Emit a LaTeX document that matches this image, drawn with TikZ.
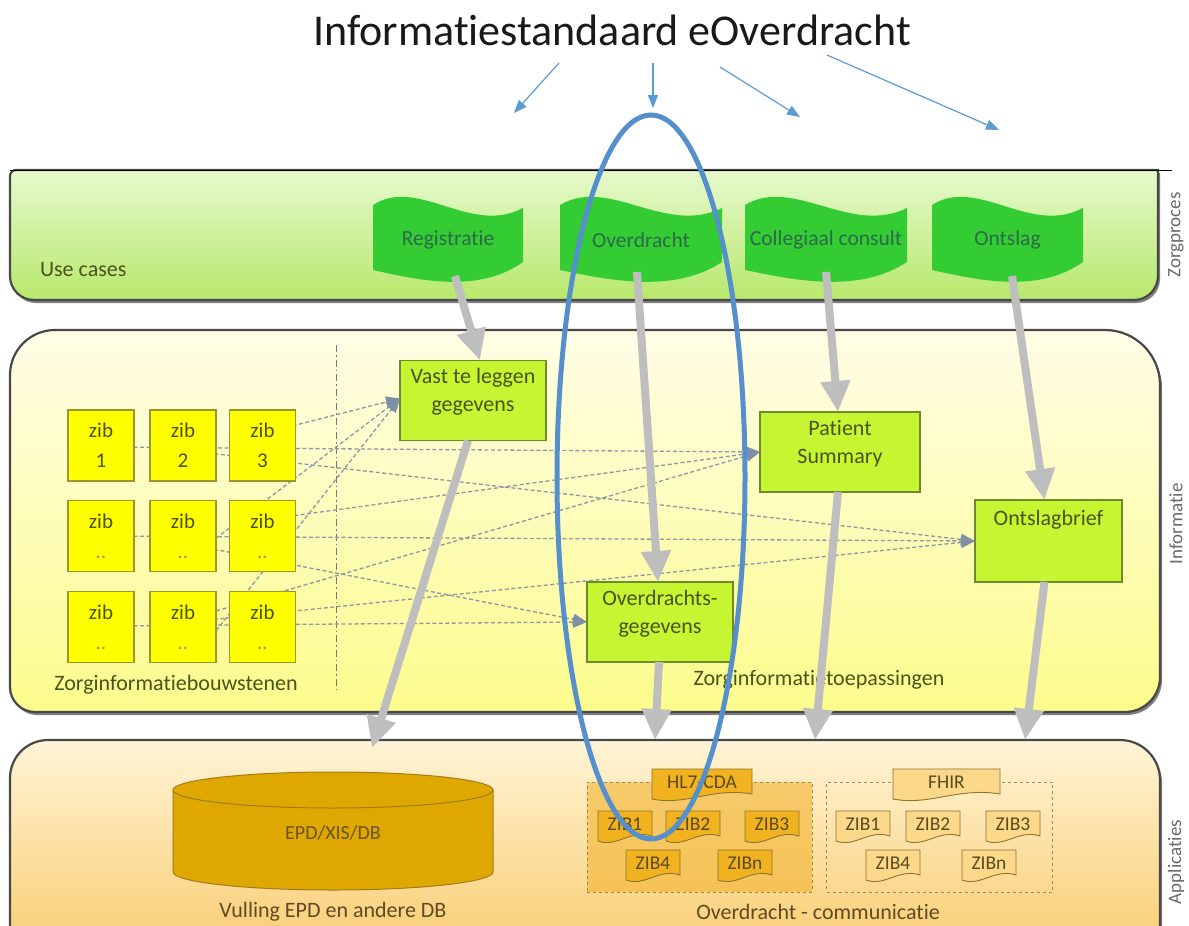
\documentclass[tikz,border=0pt]{standalone}
\usepackage{fontspec}
\setmainfont{Carlito}[Ligatures={NoCommon}]
\usetikzlibrary{arrows.meta,shapes.geometric,shadows}
\definecolor{flagfill}{HTML}{33CC33}
\definecolor{flagtxt}{HTML}{2D6A4A}
\definecolor{gboxfill}{HTML}{C6F531}
\definecolor{gboxdraw}{HTML}{6F8A2E}
\definecolor{zibfill}{HTML}{FFFF00}
\definecolor{zibdraw}{HTML}{9C9530}
\definecolor{txtolive}{HTML}{4A541C}
\definecolor{dotgray}{HTML}{9A9A60}
\definecolor{arrowgray}{HTML}{BEBEBE}
\definecolor{dashgray}{HTML}{8D98A3}
\definecolor{tipgray}{HTML}{7D90A8}
\definecolor{tblue}{HTML}{5B9BD5}
\definecolor{eblue}{HTML}{5590CC}
\definecolor{sidegray}{HTML}{6A6A6A}
\definecolor{bandborder}{HTML}{484848}
\definecolor{bandAtop}{HTML}{E6F9CC}
\definecolor{bandAmid}{HTML}{C6F288}
\definecolor{bandAbot}{HTML}{B8E86C}
\definecolor{bandBtop}{HTML}{FFFDE6}
\definecolor{bandBmid}{HTML}{E8EC66}
\definecolor{bandBbot}{HTML}{FCFC8C}
\definecolor{bandCtop}{HTML}{FFF4D6}
\definecolor{bandCmid}{HTML}{F4BE48}
\definecolor{bandCbot}{HTML}{F9D07A}
\definecolor{dbfill}{HTML}{DFA800}
\definecolor{dbdraw}{HTML}{A37B1E}
\definecolor{dbtext}{HTML}{6B5222}
\definecolor{hlfill}{HTML}{F2B431}
\definecolor{hldraw}{HTML}{A88850}
\definecolor{docA}{HTML}{F1B21F}
\definecolor{docB}{HTML}{FBD88A}
\definecolor{docdraw}{HTML}{8E7430}
\definecolor{doctxt}{HTML}{5A4A1E}

\newcommand{\wflag}[5]{%
  \fill[flagfill] (#2,{#3+5}) .. controls ({#2+0.3*#4},{#3-24}) and ({#2+0.65*#4},{#3+36}) .. ({#2+#4},{#3+8})
    -- ({#2+#4},{#3+62}) .. controls ({#2+0.7*#4},{#3+94}) and ({#2+0.3*#4},{#3+80}) .. (#2,{#3+70}) -- cycle;
  \node[flaglab] (#1) at ({#2+#4/2},{#3+40}) {#5};
}
\newcommand{\docnode}[7]{%
  \filldraw[draw=docdraw, line width=0.9pt, fill=#6] (#2,#3) -- ({#2+#4},#3) -- ({#2+#4},{#3+#5-5})
    .. controls ({#2+0.6*#4},{#3+#5-12}) and ({#2+0.35*#4},{#3+#5+7}) .. (#2,{#3+#5}) -- cycle;
  \node[doclab] (#1) at ({#2+#4/2},{#3+#5/2-2}) {#7};
}

\begin{document}
\begin{tikzpicture}[x=1pt,y=-1pt,
  every node/.style={inner sep=0pt, outer sep=0pt},
  lab/.style={font=\fontsize{22}{26}\selectfont, text=txtolive},
  flaglab/.style={font=\fontsize{21.5}{25}\selectfont, text=flagtxt},
  gbox/.style={draw=gboxdraw, line width=1.2pt, fill=gboxfill, minimum width=146pt, minimum height=80pt},
  boxtext/.style={font=\fontsize{22}{28}\selectfont, text=txtolive, align=center, anchor=north},
  zib/.style={draw=zibdraw, line width=1.2pt, fill=zibfill, minimum width=66pt, minimum height=71pt,
    font=\fontsize{21}{30}\selectfont, text=txtolive, align=center},
  bigarrow/.style={draw=arrowgray, line width=8pt, -{Triangle[width=28pt,length=31pt]}},
  dline/.style={draw=dashgray, line width=1.3pt, dash pattern=on 4pt off 2.5pt,
    -{Triangle[width=11pt,length=14pt,color=tipgray]}},
  tarrow/.style={draw=tblue, line width=1.2pt, -{Triangle[width=10pt,length=13pt]}},
  sidelab/.style={font=\fontsize{19}{22}\selectfont, text=sidegray, rotate=90},
  doclab/.style={font=\fontsize{19.5}{22}\selectfont, text=doctxt},
  bandshadow/.style={drop shadow={shadow xshift=2pt, shadow yshift=-3pt, opacity=.5, fill=black}},
]
\useasboundingbox (0,0) rectangle (1189,926);
\fill[white] (0,0) rectangle (1189,926);

% ---------- bands ----------
\shade[bandshadow, top color=bandAtop, middle color=bandAmid, bottom color=bandAbot]
  (10,176) arc[start angle=180, end angle=90, radius=6pt] -- (1158,170) -- (1158,276)
  arc[start angle=0, end angle=-90, radius=24pt] -- (34,300)
  arc[start angle=270, end angle=180, radius=24pt] -- cycle;
\draw[bandborder, line width=2.2pt]
  (10,176) arc[start angle=180, end angle=90, radius=6pt] -- (1158,170) -- (1158,276)
  arc[start angle=0, end angle=-90, radius=24pt] -- (34,300)
  arc[start angle=270, end angle=180, radius=24pt] -- cycle;

\shade[bandshadow, top color=bandBtop, middle color=bandBmid, bottom color=bandBbot]
  (10,375) arc[start angle=180, end angle=90, radius=45pt] -- (1105,330)
  arc[start angle=90, end angle=0, radius=55pt] -- (1160,677)
  arc[start angle=0, end angle=-90, radius=35pt] -- (35,712)
  arc[start angle=270, end angle=180, radius=25pt] -- cycle;
\draw[bandborder, line width=2.2pt]
  (10,375) arc[start angle=180, end angle=90, radius=45pt] -- (1105,330)
  arc[start angle=90, end angle=0, radius=55pt] -- (1160,677)
  arc[start angle=0, end angle=-90, radius=35pt] -- (35,712)
  arc[start angle=270, end angle=180, radius=25pt] -- cycle;

\shade[bandshadow, top color=bandCtop, middle color=bandCmid, bottom color=bandCbot]
  (10,935) -- (10,778) arc[start angle=180, end angle=90, radius=38pt] -- (1120,740)
  arc[start angle=90, end angle=0, radius=40pt] -- (1160,935) -- cycle;
\draw[bandborder, line width=2.2pt]
  (10,935) -- (10,778) arc[start angle=180, end angle=90, radius=38pt] -- (1120,740)
  arc[start angle=90, end angle=0, radius=40pt] -- (1160,935);

\draw[black, line width=1pt] (10,170) -- (1172,170);

% ---------- side labels ----------
\node[sidelab] (zorgproces) at (1176,235) {Zorgproces};
\node[sidelab] (informatie) at (1176,524) {Informatie};
\node[sidelab] (applicaties) at (1176,862) {Applicaties};

% ---------- title ----------
\node[font=\fontsize{44}{50}\selectfont, text=black!90] (title) at (612,30) {Informatiestandaard eOverdracht};
\coordinate (t1s) at (559,63);  \coordinate (t1e) at (514,113);
\coordinate (t2s) at (653,63);  \coordinate (t2e) at (653,108);
\coordinate (t3s) at (720,67);  \coordinate (t3e) at (800,117);
\coordinate (t4s) at (827,55);  \coordinate (t4e) at (999,130);
\draw[tarrow] (t1s) -- (t1e);
\draw[tarrow] (t2s) -- (t2e);
\draw[tarrow] (t3s) -- (t3e);
\draw[tarrow] (t4s) -- (t4e);

% ---------- use cases ----------
\node[lab, anchor=west] (usecases) at (40,270) {Use cases};
\wflag{registratie}{373}{200}{150}{Registratie}
\wflag{overdracht}{560}{200}{162}{Overdracht}
\wflag{collegiaal}{745}{200}{162}{Collegiaal consult}
\wflag{ontslag}{932}{200}{151}{Ontslag}

% ---------- informatie ----------
\draw[dashgray!80!black, line width=0.8pt, dash pattern=on 7pt off 3pt on 1.5pt off 3pt] (336,345) -- (336,692);

\coordinate (a1) at (101,447);
\coordinate (b1) at (182,450);
\coordinate (c1) at (280,429);
\coordinate (d1) at (101,536);
\coordinate (e1) at (182,543);
\coordinate (f1) at (190,558);
\coordinate (g1) at (262,520);
\coordinate (h1) at (101,626);
\coordinate (i1) at (200,651);
\coordinate (j1) at (185,620);
\coordinate (k1) at (188,622);

\node[gbox] (vast) at (473,400.5) {};
\node[gbox, minimum width=160pt] (ps) at (840,452) {};
\node[gbox, minimum width=147pt, minimum height=82pt] (ontslagbrief) at (1048.5,541) {};
\node[gbox] (ovg) at (660,622) {};

\draw[dline] (a1) -- (ps.west);
\draw[dline] (b1) -- (ontslagbrief.west);
\draw[dline] (c1) -- ([yshift=2pt]vast.west);
\draw[dline] (d1) -- (ontslagbrief.west);
\draw[dline] (e1) -- (ovg.west);
\draw[dline] (f1) -- ([yshift=2pt]vast.west);
\draw[dline] (g1) -- (ps.west);
\draw[dline] (h1) -- (ovg.west);
\draw[dline] (i1) -- ([yshift=2pt]vast.west);
\draw[dline] (j1) -- (ps.west);
\draw[dline] (k1) -- (ontslagbrief.west);

\node[zib] (z11) at (101,445.5) {zib\\1};
\node[zib] (z12) at (183,445.5) {zib\\2};
\node[zib] (z13) at (262.5,445.5) {zib\\3};
\node[zib] (z21) at (101,536) {zib\\{\color{dotgray}..}};
\node[zib] (z22) at (183,536) {zib\\{\color{dotgray}..}};
\node[zib] (z23) at (262.5,536) {zib\\{\color{dotgray}..}};
\node[zib] (z31) at (101,627) {zib\\{\color{dotgray}..}};
\node[zib] (z32) at (183,627) {zib\\{\color{dotgray}..}};
\node[zib] (z33) at (262.5,627) {zib\\{\color{dotgray}..}};

\node[boxtext] (vastT) at ([yshift=-8pt]vast.north) {Vast te leggen\\gegevens};
\node[boxtext] (psT) at ([yshift=-8pt]ps.north) {Patient\\Summary};
\node[boxtext] (ontslagbriefT) at ([yshift=-10pt]ontslagbrief.north) {Ontslagbrief};
\node[boxtext] (ovgT) at ([yshift=-8pt]ovg.north) {Overdrachts-\\gegevens};

\node[lab] (zib) at (176,685) {Zorginformatiebouwstenen};
\node[lab] (zit) at (819,680) {Zorginformatietoepassingen};

% ---------- applicaties ----------
\filldraw[fill=dbfill, draw=dbdraw, line width=1pt]
  (173,790) -- (173,872) arc[start angle=180, end angle=360, x radius=160pt, y radius=18pt]
  -- (493,790) arc[start angle=0, end angle=180, x radius=160pt, y radius=18pt] -- cycle;
\draw[dbdraw, line width=1pt] (173,790) arc[start angle=180, end angle=360, x radius=160pt, y radius=18pt];
\node[font=\fontsize{20}{22}\selectfont, text=dbtext] (db) at (333,833) {EPD/XIS/DB};
\node[lab, text=dbtext!90!black] (vulling) at (333,912) {Vulling EPD en andere DB};

\node[draw=hldraw, line width=1pt, dashed, fill=hlfill, fill opacity=.6,
  minimum width=225pt, minimum height=110pt] (hl7frame) at (699.5,837) {};
\node[draw=hldraw, line width=1pt, dashed, minimum width=226pt, minimum height=110pt] (fhirframe) at (939.5,837) {};

\docnode{hl7}{652}{769}{100}{30}{docA}{HL7-CDA}
\docnode{hzib1}{598}{811}{54}{30}{docA}{ZIB1}
\docnode{hzib2}{666}{811}{54}{30}{docA}{ZIB2}
\docnode{hzib3}{745}{811}{54}{30}{docA}{ZIB3}
\docnode{hzib4}{626}{850}{54}{30}{docA}{ZIB4}
\docnode{hzibn}{718}{850}{54}{30}{docA}{ZIBn}

\docnode{fhir}{893}{769}{107}{30}{docB}{FHIR}
\docnode{fzib1}{836}{811}{54}{30}{docB}{ZIB1}
\docnode{fzib2}{906}{811}{54}{30}{docB}{ZIB2}
\docnode{fzib3}{986}{811}{54}{30}{docB}{ZIB3}
\docnode{fzib4}{866}{850}{54}{30}{docB}{ZIB4}
\docnode{fzibn}{962}{850}{54}{30}{docB}{ZIBn}

\node[lab, text=dbtext!90!black] (comm) at (818,912) {Overdracht - communicatie};

% ---------- big gray arrows ----------
\coordinate (regB) at (455,276);
\coordinate (ovB) at (637,272);
\coordinate (colB) at (826,272);
\coordinate (ontB) at (1012,276);
\coordinate (dbT) at (372,748);
\coordinate (appA) at (655,740);
\coordinate (appB) at (815,740);
\coordinate (appC) at (1025,740);
\draw[bigarrow] (regB) -- ([xshift=7pt]vast.north);
\draw[bigarrow] (ovB) -- ([xshift=-2pt]ovg.north);
\draw[bigarrow] (colB) -- ([xshift=-2pt]ps.north);
\draw[bigarrow] (ontB) -- ([xshift=-4pt]ontslagbrief.north);
\draw[bigarrow] ([xshift=-5pt]vast.south) -- (dbT);
\draw[bigarrow] ([xshift=-1pt]ovg.south) -- (appA);
\draw[bigarrow] ([xshift=-2pt]ps.south) -- (appB);
\draw[bigarrow] ([xshift=-4pt]ontslagbrief.south) -- (appC);

% ---------- focus ellipse ----------
\node[ellipse, draw=eblue, line width=5pt, minimum width=188pt, minimum height=724pt] (focus) at (651,477) {};
\end{tikzpicture}
\end{document}
